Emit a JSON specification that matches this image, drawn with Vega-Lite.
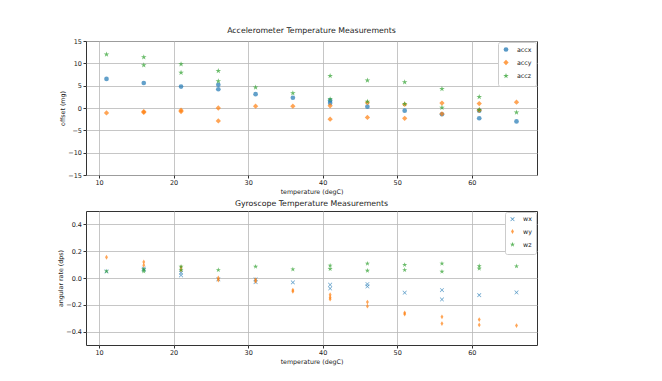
{
  "$schema": "https://vega.github.io/schema/vega-lite/v6.json",
  "background": "white",
  "padding": {"left": 57, "top": 26, "right": 5, "bottom": 2},
  "config": {
    "font": "DejaVu Sans",
    "view": {"stroke": "#333333", "strokeWidth": 1},
    "axis": {
      "labelFont": "DejaVu Sans", "labelFontSize": 6.5, "labelColor": "#222222",
      "titleFont": "DejaVu Sans", "titleFontSize": 6.3, "titleFontWeight": "normal", "titleColor": "#222222",
      "gridColor": "#b8b8b8", "gridWidth": 0.8, "domain": false,
      "tickColor": "#333333", "tickSize": 3, "labelPadding": 1.5, "titlePadding": 2
    },
    "title": {"font": "DejaVu Sans", "fontSize": 7.8, "fontWeight": "normal", "color": "#222222", "offset": 3},
    "legend": {
      "labelFont": "DejaVu Sans", "labelFontSize": 6.3, "labelColor": "#222222",
      "fillColor": "white", "strokeColor": "#cccccc", "cornerRadius": 2, "padding": 4,
      "rowPadding": 1, "symbolOpacity": 0.75, "labelOffset": 7
    },
    "concat": {"spacing": 4}
  },
  "resolve": {
    "scale": {"color": "independent", "shape": "independent", "size": "independent", "x": "independent", "y": "independent"},
    "legend": {"color": "independent", "shape": "independent", "size": "independent"}
  },
  "datasets": {
    "acc": [
      {"series": "accx", "t": 11, "v": 6.5}, {"series": "accx", "t": 16, "v": 5.6}, {"series": "accx", "t": 21, "v": 4.8},
      {"series": "accx", "t": 26, "v": 5.2}, {"series": "accx", "t": 26, "v": 4.2}, {"series": "accx", "t": 31, "v": 3.1},
      {"series": "accx", "t": 36, "v": 2.3}, {"series": "accx", "t": 41, "v": 1.7}, {"series": "accx", "t": 41, "v": 1.1},
      {"series": "accx", "t": 46, "v": 0.3}, {"series": "accx", "t": 51, "v": -0.6}, {"series": "accx", "t": 56, "v": -1.4},
      {"series": "accx", "t": 61, "v": -0.6}, {"series": "accx", "t": 61, "v": -2.3}, {"series": "accx", "t": 66, "v": -3.0},
      {"series": "accy", "t": 11, "v": -1.1}, {"series": "accy", "t": 16, "v": -0.8}, {"series": "accy", "t": 16, "v": -1.0},
      {"series": "accy", "t": 21, "v": -0.5}, {"series": "accy", "t": 21, "v": -0.8}, {"series": "accy", "t": 26, "v": 0.0},
      {"series": "accy", "t": 26, "v": -2.9}, {"series": "accy", "t": 31, "v": 0.4}, {"series": "accy", "t": 36, "v": 0.4},
      {"series": "accy", "t": 41, "v": 0.5}, {"series": "accy", "t": 41, "v": -2.5}, {"series": "accy", "t": 46, "v": 1.2},
      {"series": "accy", "t": 46, "v": -2.1}, {"series": "accy", "t": 51, "v": 0.8}, {"series": "accy", "t": 51, "v": -2.3},
      {"series": "accy", "t": 56, "v": 1.1}, {"series": "accy", "t": 56, "v": -1.3}, {"series": "accy", "t": 61, "v": 1.0},
      {"series": "accy", "t": 61, "v": -0.5}, {"series": "accy", "t": 66, "v": 1.3},
      {"series": "accz", "t": 11, "v": 12.0}, {"series": "accz", "t": 16, "v": 11.4}, {"series": "accz", "t": 16, "v": 9.6},
      {"series": "accz", "t": 21, "v": 9.8}, {"series": "accz", "t": 21, "v": 7.9}, {"series": "accz", "t": 26, "v": 8.3},
      {"series": "accz", "t": 26, "v": 6.0}, {"series": "accz", "t": 31, "v": 4.6}, {"series": "accz", "t": 36, "v": 3.3},
      {"series": "accz", "t": 41, "v": 7.2}, {"series": "accz", "t": 41, "v": 2.0}, {"series": "accz", "t": 46, "v": 6.2},
      {"series": "accz", "t": 46, "v": 1.4}, {"series": "accz", "t": 51, "v": 5.8}, {"series": "accz", "t": 51, "v": 0.9},
      {"series": "accz", "t": 56, "v": 4.3}, {"series": "accz", "t": 56, "v": 0.1}, {"series": "accz", "t": 61, "v": 2.5},
      {"series": "accz", "t": 61, "v": -0.4}, {"series": "accz", "t": 66, "v": -1.0}
    ],
    "gyro": [
      {"series": "wx", "t": 11, "v": 0.05}, {"series": "wx", "t": 16, "v": 0.06}, {"series": "wx", "t": 16, "v": 0.07},
      {"series": "wx", "t": 21, "v": 0.02}, {"series": "wx", "t": 21, "v": 0.04}, {"series": "wx", "t": 26, "v": -0.01},
      {"series": "wx", "t": 31, "v": -0.01}, {"series": "wx", "t": 31, "v": -0.03}, {"series": "wx", "t": 36, "v": -0.033},
      {"series": "wx", "t": 41, "v": -0.05}, {"series": "wx", "t": 41, "v": -0.078}, {"series": "wx", "t": 46, "v": -0.045},
      {"series": "wx", "t": 46, "v": -0.063}, {"series": "wx", "t": 51, "v": -0.11}, {"series": "wx", "t": 56, "v": -0.09},
      {"series": "wx", "t": 56, "v": -0.16}, {"series": "wx", "t": 61, "v": -0.128}, {"series": "wx", "t": 66, "v": -0.108},
      {"series": "wy", "t": 11, "v": 0.155}, {"series": "wy", "t": 16, "v": 0.12}, {"series": "wy", "t": 16, "v": 0.095},
      {"series": "wy", "t": 21, "v": 0.08}, {"series": "wy", "t": 21, "v": 0.06}, {"series": "wy", "t": 26, "v": 0.0},
      {"series": "wy", "t": 26, "v": -0.015}, {"series": "wy", "t": 31, "v": -0.012}, {"series": "wy", "t": 31, "v": -0.025},
      {"series": "wy", "t": 36, "v": -0.09}, {"series": "wy", "t": 36, "v": -0.1}, {"series": "wy", "t": 41, "v": -0.125},
      {"series": "wy", "t": 41, "v": -0.145}, {"series": "wy", "t": 41, "v": -0.158}, {"series": "wy", "t": 46, "v": -0.18},
      {"series": "wy", "t": 46, "v": -0.21}, {"series": "wy", "t": 51, "v": -0.26}, {"series": "wy", "t": 51, "v": -0.27},
      {"series": "wy", "t": 56, "v": -0.29}, {"series": "wy", "t": 56, "v": -0.34}, {"series": "wy", "t": 61, "v": -0.31},
      {"series": "wy", "t": 61, "v": -0.35}, {"series": "wy", "t": 66, "v": -0.355},
      {"series": "wz", "t": 11, "v": 0.05}, {"series": "wz", "t": 16, "v": 0.065}, {"series": "wz", "t": 16, "v": 0.05},
      {"series": "wz", "t": 21, "v": 0.085}, {"series": "wz", "t": 21, "v": 0.06}, {"series": "wz", "t": 26, "v": 0.06},
      {"series": "wz", "t": 31, "v": 0.085}, {"series": "wz", "t": 36, "v": 0.065}, {"series": "wz", "t": 41, "v": 0.093},
      {"series": "wz", "t": 41, "v": 0.068}, {"series": "wz", "t": 46, "v": 0.108}, {"series": "wz", "t": 46, "v": 0.055},
      {"series": "wz", "t": 51, "v": 0.098}, {"series": "wz", "t": 51, "v": 0.06}, {"series": "wz", "t": 56, "v": 0.108},
      {"series": "wz", "t": 56, "v": 0.048}, {"series": "wz", "t": 61, "v": 0.09}, {"series": "wz", "t": 61, "v": 0.07},
      {"series": "wz", "t": 66, "v": 0.088}
    ]
  },
  "vconcat": [
    {
      "width": 451, "height": 134,
      "title": "Accelerometer Temperature Measurements",
      "data": {"name": "acc"},
      "mark": {"type": "point", "filled": true, "opacity": 0.7},
      "encoding": {
        "x": {"field": "t", "type": "quantitative", "title": "temperature (degC)",
              "scale": {"domain": [8.25, 68.75], "nice": false, "zero": false},
              "axis": {"values": [10, 20, 30, 40, 50, 60], "grid": true}},
        "y": {"field": "v", "type": "quantitative", "title": "offset (mg)",
              "scale": {"domain": [-15, 15], "nice": false},
              "axis": {"values": [-15, -10, -5, 0, 5, 10, 15], "grid": true}},
        "color": {"field": "series", "type": "nominal",
                  "scale": {"domain": ["accx", "accy", "accz"], "range": ["#1f77b4", "#ff7f0e", "#2ca02c"]},
                  "legend": {"title": null, "orient": "top-right", "offset": 1}},
        "shape": {"field": "series", "type": "nominal",
                  "scale": {"domain": ["accx", "accy", "accz"], "range": ["circle", "diamond", "M0,-1L0.223,-0.307L0.951,-0.309L0.361,0.117L0.588,0.809L0,0.38L-0.588,0.809L-0.361,0.117L-0.951,-0.309L-0.223,-0.307Z"]},
                  "legend": {"title": null, "orient": "top-right", "offset": 1}},
        "size": {"field": "series", "type": "nominal",
                 "scale": {"domain": ["accx", "accy", "accz"], "range": [22, 34, 10]},
                 "legend": {"title": null, "orient": "top-right", "offset": 1}}
      }
    },
    {
      "width": 451, "height": 134,
      "title": "Gyroscope Temperature Measurements",
      "data": {"name": "gyro"},
      "mark": {"type": "point", "filled": true, "opacity": 0.7},
      "encoding": {
        "x": {"field": "t", "type": "quantitative", "title": "temperature (degC)",
              "scale": {"domain": [8.25, 68.75], "nice": false, "zero": false},
              "axis": {"values": [10, 20, 30, 40, 50, 60], "grid": true}},
        "y": {"field": "v", "type": "quantitative", "title": "angular rate (dps)",
              "scale": {"domain": [-0.5, 0.5], "nice": false},
              "axis": {"values": [-0.4, -0.2, 0, 0.2, 0.4], "format": ".1f", "grid": true}},
        "color": {"field": "series", "type": "nominal",
                  "scale": {"domain": ["wx", "wy", "wz"], "range": ["#1f77b4", "#ff7f0e", "#2ca02c"]},
                  "legend": {"title": null, "orient": "top-right", "offset": 1}},
        "shape": {"field": "series", "type": "nominal",
                  "scale": {"domain": ["wx", "wy", "wz"], "range": ["M-1,-0.8L-0.25,0L-1,0.8L-0.8,1L0,0.25L0.8,1L1,0.8L0.25,0L1,-0.8L0.8,-1L0,-0.25L-0.8,-1Z", "M0,-1L0.6,0L0,1L-0.6,0Z", "M0,-1L0.223,-0.307L0.951,-0.309L0.361,0.117L0.588,0.809L0,0.38L-0.588,0.809L-0.361,0.117L-0.951,-0.309L-0.223,-0.307Z"]},
                  "legend": {"title": null, "orient": "top-right", "offset": 1}},
        "size": {"field": "series", "type": "nominal",
                 "scale": {"domain": ["wx", "wy", "wz"], "range": [18, 28, 10]},
                 "legend": {"title": null, "orient": "top-right", "offset": 1}}
      }
    }
  ]
}
